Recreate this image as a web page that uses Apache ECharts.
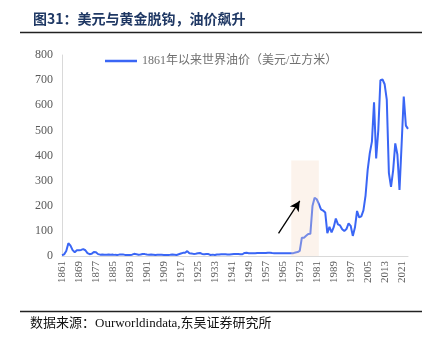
<!DOCTYPE html>
<html><head><meta charset="utf-8">
<script src="https://cdn.jsdelivr.net/npm/echarts@6/dist/echarts.min.js"></script>
<style>html,body{margin:0;padding:0;background:#fff}#c{width:432px;height:339px}</style>
</head><body><div id="c"></div>
<script>
const years = [];
for (let y = 1861; y <= 2024; y++) years.push(String(y));
const seriesName = '1861年以来世界油价（美元/立方米）';
const oilPrice = [
 3.1,6.6,19.8,50.7,41.5,23.5,15.2,22.8,22.9,24.3,
 27.3,22.9,11.5,7.4,8.5,16.1,15.2,7.5,5.4,6.0,
 5.4,4.9,6.3,5.3,5.5,4.5,4.2,5.5,5.9,5.5,
 4.2,3.5,4.0,5.3,8.6,7.4,5.0,5.7,8.1,7.5,
 6.0,5.0,5.9,5.4,3.9,4.6,4.5,4.5,4.4,3.8,
 3.8,4.7,6.0,5.1,4.0,6.9,9.8,12.5,12.6,19.3,
 10.9,10.1,8.4,9.0,10.6,11.8,8.2,7.4,8.0,7.5,
 4.1,5.5,4.2,6.3,6.1,6.9,7.4,7.1,6.4,6.4,
 7.2,7.5,7.5,7.6,6.6,7.0,12.0,12.5,11.2,10.8,
 10.8,10.8,12.1,12.1,12.1,12.1,12.0,13.1,13.1,12.0,
 11.3,11.3,11.3,11.3,11.3,11.3,11.3,11.3,11.3,11.3,
 14.1,15.6,20.7,72.8,72.5,80.5,87.6,88.2,198.8,231.7,
 226.0,207.4,185.9,181.0,173.4,90.8,116.0,93.8,114.7,149.3,
 125.8,121.5,106.7,99.5,107.1,130.0,120.1,80.0,113.0,179.3,
 153.7,157.4,181.3,240.7,342.9,409.7,455.3,611.8,387.9,500.1,
 699.8,702.4,683.5,622.4,329.5,275.1,340.9,448.5,403.9,263.2,
 446.0,634.8,518.9,506.0
];
const highlightRange = ['1969', '1982'];
const highlightTop = 380;
const arrowFrom = ['1963', 90];
const arrowTo = ['1973', 219];

const serif = '"Liberation Serif","Noto Sans CJK SC",serif';
const chart = echarts.init(document.getElementById('c'), null, {renderer:'canvas'});
chart.setOption({
  animation:false,
  backgroundColor:'#fff',
  title:{
    text:'图31：美元与黄金脱钩，油价飙升',
    left:28, top:7,
    textStyle:{fontFamily:'"Noto Sans CJK SC",sans-serif',fontWeight:'bold',fontSize:14,color:'#1f3864'}
  },
  graphic:[
    {type:'line',shape:{x1:20,y1:32.5,x2:422,y2:32.5},style:{stroke:'#222',lineWidth:1.5}},
    {type:'line',shape:{x1:20,y1:311.5,x2:422,y2:311.5},style:{stroke:'#222',lineWidth:1.5}},
    {type:'text',left:30,top:317,style:{text:'数据来源：Ourworldindata,东吴证券研究所',font:'13px '+serif,fill:'#111'}}
  ],
  legend:{
    data:[seriesName],
    left:100, top:50,
    icon:'rect', itemWidth:32, itemHeight:2.5, itemGap:6,
    textStyle:{fontFamily:serif,fontSize:12,color:'#707070'}
  },
  grid:{left:62,right:24,top:55,bottom:83,containLabel:false},
  xAxis:{
    type:'category', data:years, boundaryGap:false,
    axisLine:{lineStyle:{color:'#d9d9d9'}},
    axisTick:{show:false},
    axisLabel:{interval:7,rotate:90,fontFamily:serif,fontSize:11,color:'#595959',margin:5}
  },
  yAxis:{
    type:'value', min:0, max:800, interval:100,
    axisLine:{show:true,lineStyle:{color:'#d9d9d9'}},
    axisTick:{show:false},
    splitLine:{show:false},
    axisLabel:{fontFamily:serif,fontSize:12,color:'#595959',margin:9}
  },
  series:[
    {
      name:seriesName, type:'line', data:oilPrice, symbol:'none',
      lineStyle:{color:'#3a66f5',width:2}, itemStyle:{color:'#3a66f5'}, z:2
    },
    {
      name:'overlay', type:'line', data:[], z:5, silent:true,
      markArea:{silent:true,z:6,itemStyle:{color:'rgba(246,218,196,0.32)'},
        data:[[{xAxis:highlightRange[0],yAxis:0},{xAxis:highlightRange[1],yAxis:highlightTop}]]},
      markLine:{silent:true,z:7,symbol:['none','arrow'],symbolSize:[8,10],
        lineStyle:{color:'#000',width:1.3,type:'solid'},label:{show:false},
        data:[[{coord:arrowFrom},{coord:arrowTo}]]}
    }
  ]
});
</script></body></html>
